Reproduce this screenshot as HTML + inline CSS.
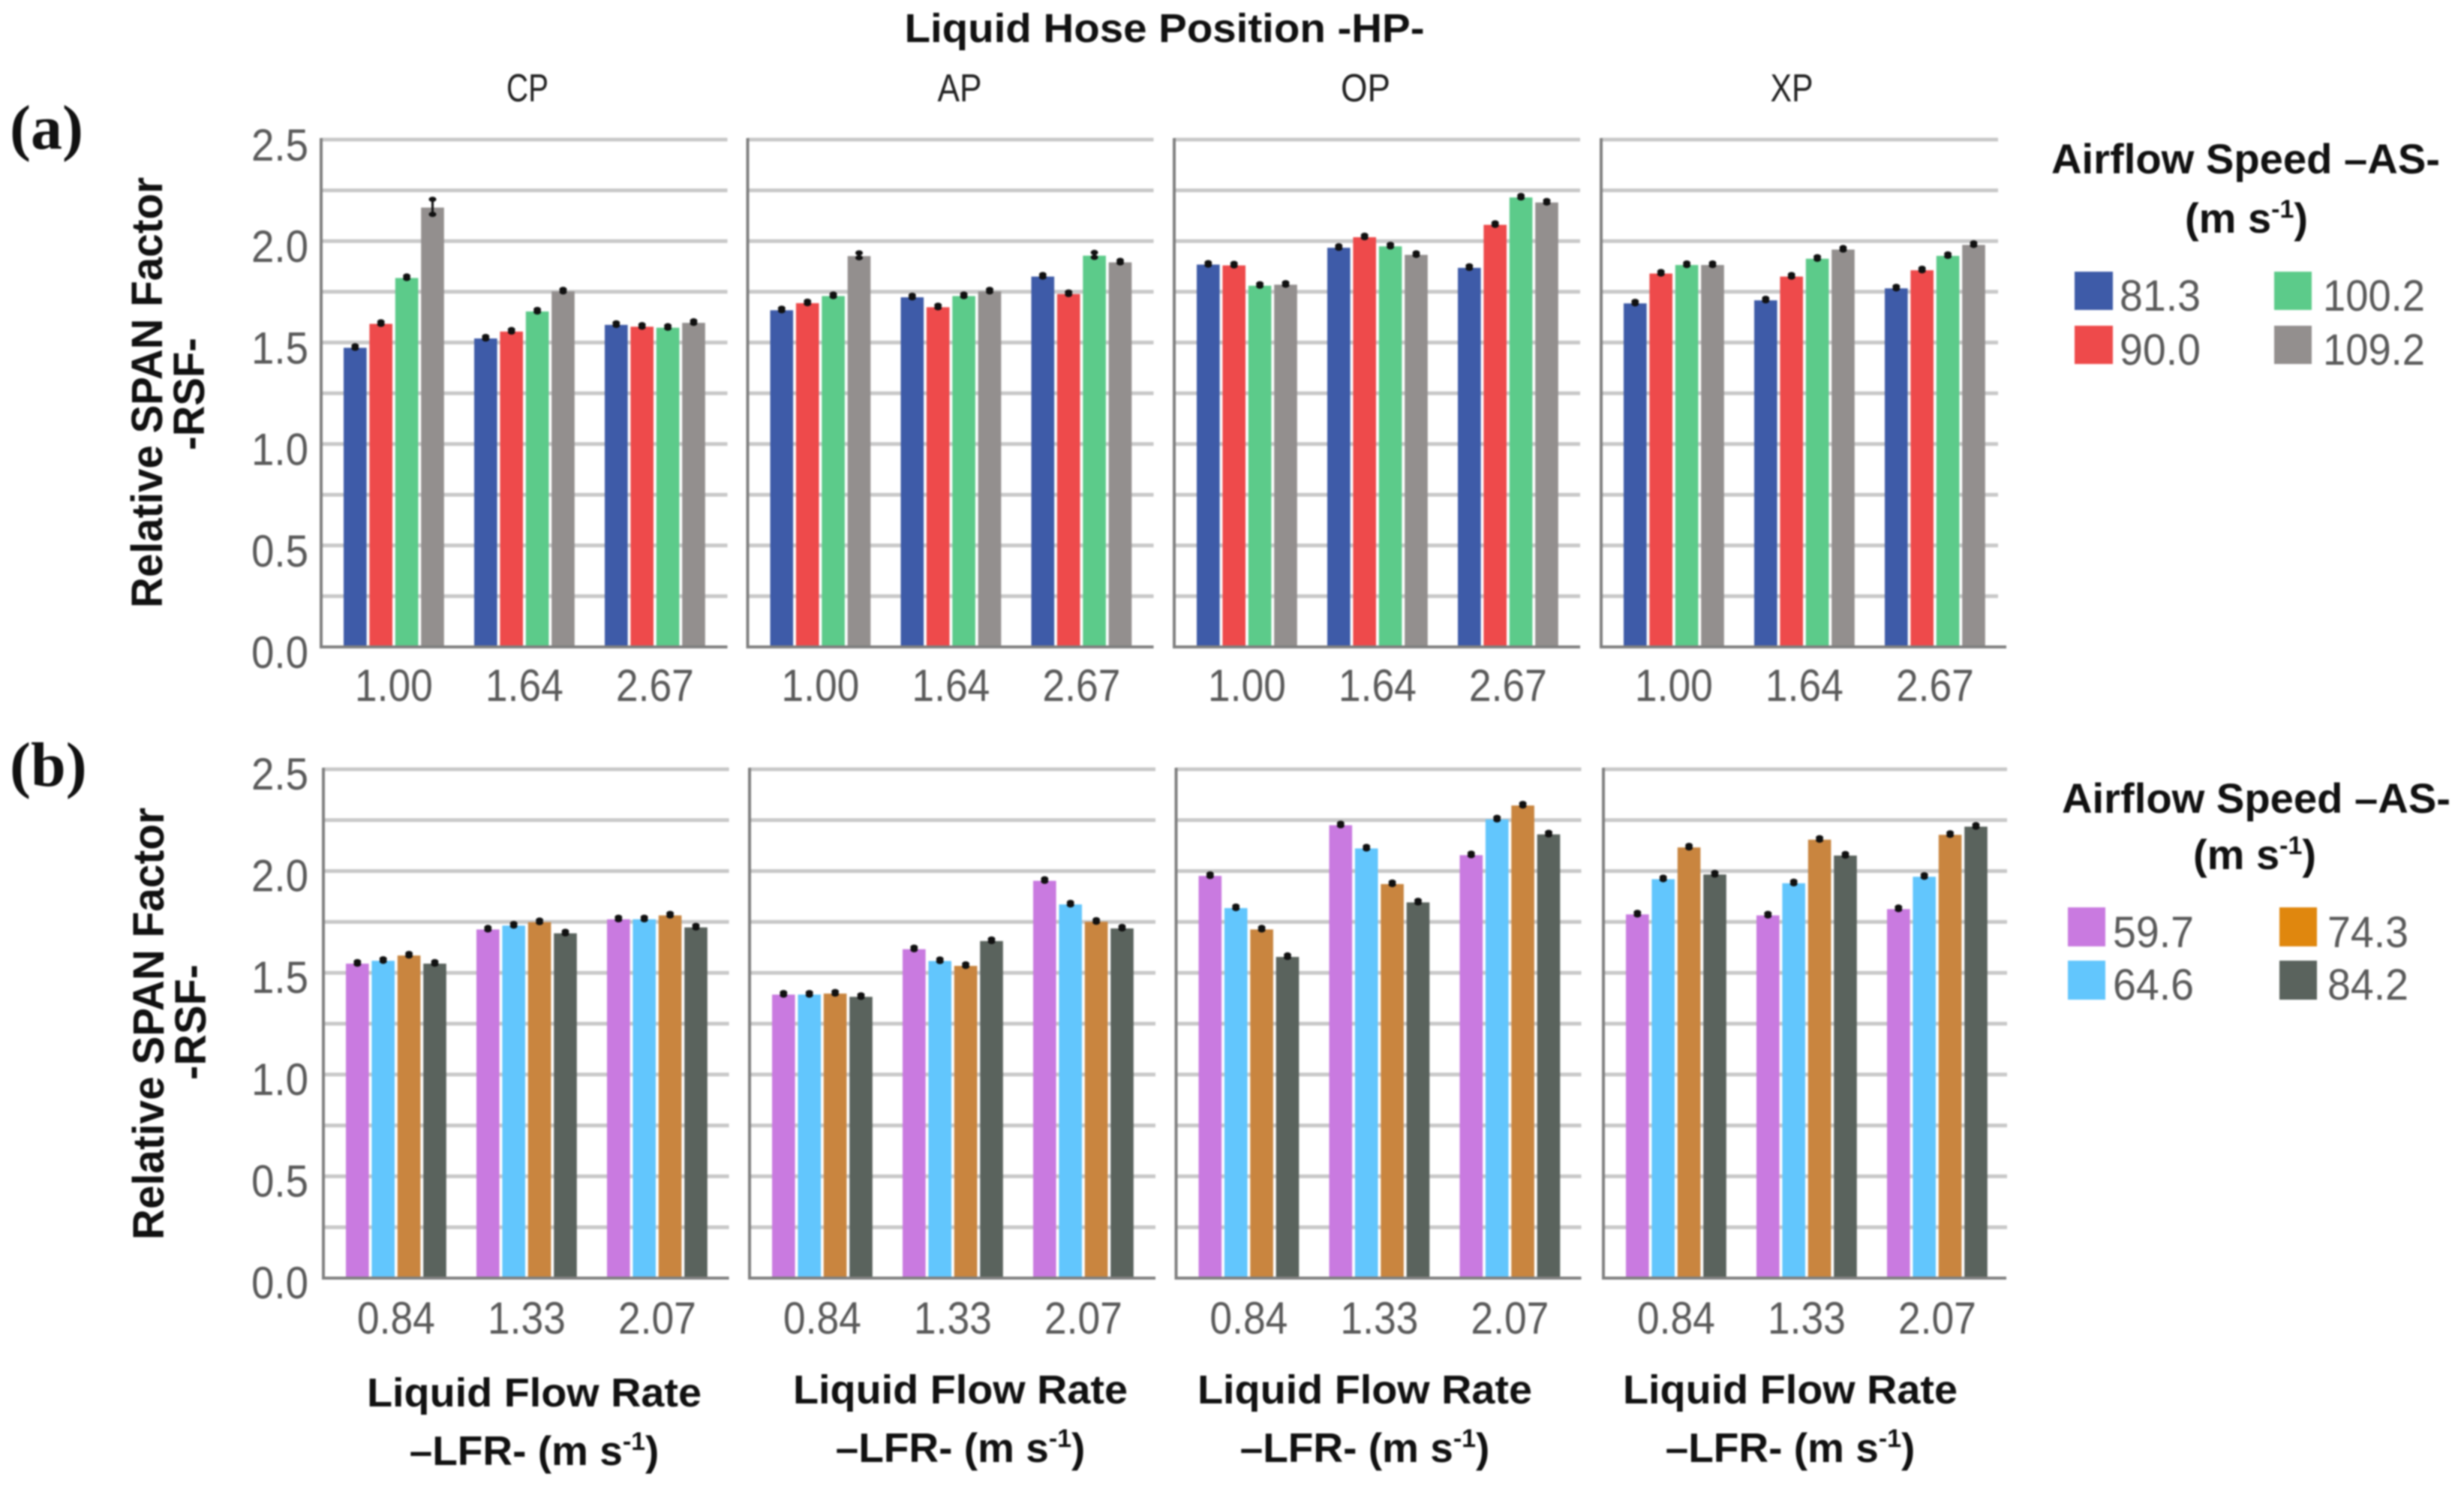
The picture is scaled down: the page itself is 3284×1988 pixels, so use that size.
<!DOCTYPE html>
<html lang="en">
<head>
<meta charset="utf-8">
<title>Relative SPAN Factor by Liquid Hose Position</title>
<style>
html,body{margin:0;padding:0;background:#fff;width:3284px;height:1988px;overflow:hidden}
svg{display:block;filter:blur(1px)}
.b{font-family:"Liberation Sans",sans-serif;font-weight:700;fill:#111}
.r{font-family:"Liberation Sans",sans-serif;fill:#222}
.t{font-family:"Liberation Sans",sans-serif;fill:#5a5a5a}
.s{font-family:"Liberation Serif",serif;font-weight:700;fill:#111}
</style>
</head>
<body>
<svg id="chart" xmlns="http://www.w3.org/2000/svg" width="3284" height="1988" viewBox="0 0 3284 1988">
<rect width="3284" height="1988" fill="#fff"/>
<g id="panels"></g>

<text class="b" x="1552" y="56" font-size="54" text-anchor="middle" textLength="693" lengthAdjust="spacingAndGlyphs">Liquid Hose Position -HP-</text>
<text class="r" x="703" y="135" font-size="52" text-anchor="middle" textLength="56" lengthAdjust="spacingAndGlyphs">CP</text>
<text class="r" x="1279" y="135" font-size="52" text-anchor="middle" textLength="59" lengthAdjust="spacingAndGlyphs">AP</text>
<text class="r" x="1820" y="135" font-size="52" text-anchor="middle" textLength="66" lengthAdjust="spacingAndGlyphs">OP</text>
<text class="r" x="2388" y="135" font-size="52" text-anchor="middle" textLength="57" lengthAdjust="spacingAndGlyphs">XP</text>

<text class="s" x="13" y="198" font-size="84">(a)</text>
<text class="s" x="13" y="1047" font-size="84">(b)</text>

<text class="b" transform="translate(216 523) rotate(-90)" font-size="58" text-anchor="middle" textLength="574" lengthAdjust="spacingAndGlyphs">Relative SPAN Factor</text>
<text class="b" transform="translate(272 525) rotate(-90)" font-size="58" text-anchor="middle" textLength="150" lengthAdjust="spacingAndGlyphs">-RSF-</text>
<text class="b" transform="translate(218 1364) rotate(-90)" font-size="58" text-anchor="middle" textLength="576" lengthAdjust="spacingAndGlyphs">Relative SPAN Factor</text>
<text class="b" transform="translate(274 1362) rotate(-90)" font-size="58" text-anchor="middle" textLength="154" lengthAdjust="spacingAndGlyphs">-RSF-</text>

<g>
<text class="b" x="2993" y="231" font-size="56" text-anchor="middle" textLength="518" lengthAdjust="spacingAndGlyphs">Airflow Speed –AS-</text>
<text class="b" x="2994" y="310" font-size="56" text-anchor="middle">(m s<tspan font-size="34" dy="-20">-1</tspan><tspan dy="20">)</tspan></text>
<rect x="2765" y="362" width="51" height="51" fill="#3e5ba8"/>
<text class="t" x="2825" y="414" font-size="58" textLength="108" lengthAdjust="spacingAndGlyphs">81.3</text>
<rect x="2765" y="434" width="51" height="51" fill="#ee4a4b"/>
<text class="t" x="2825" y="486" font-size="58" textLength="108" lengthAdjust="spacingAndGlyphs">90.0</text>
<rect x="3031" y="362" width="50" height="51" fill="#5ccb8a"/>
<text class="t" x="3096" y="414" font-size="58" textLength="136" lengthAdjust="spacingAndGlyphs">100.2</text>
<rect x="3031" y="434" width="50" height="51" fill="#938f8e"/>
<text class="t" x="3096" y="486" font-size="58" textLength="136" lengthAdjust="spacingAndGlyphs">109.2</text>
</g>

<g>
<text class="b" x="3007" y="1083" font-size="56" text-anchor="middle" textLength="518" lengthAdjust="spacingAndGlyphs">Airflow Speed –AS-</text>
<text class="b" x="3005" y="1158" font-size="56" text-anchor="middle">(m s<tspan font-size="34" dy="-20">-1</tspan><tspan dy="20">)</tspan></text>
<rect x="2756" y="1209" width="50" height="52" fill="#c97ae0"/>
<text class="t" x="2816" y="1262" font-size="58" textLength="108" lengthAdjust="spacingAndGlyphs">59.7</text>
<rect x="2756" y="1280" width="50" height="52" fill="#62c6fd"/>
<text class="t" x="2816" y="1332" font-size="58" textLength="108" lengthAdjust="spacingAndGlyphs">64.6</text>
<rect x="3038" y="1209" width="50" height="52" fill="#e0870e"/>
<text class="t" x="3102" y="1262" font-size="58" textLength="108" lengthAdjust="spacingAndGlyphs">74.3</text>
<rect x="3038" y="1280" width="50" height="52" fill="#5a635d"/>
<text class="t" x="3102" y="1332" font-size="58" textLength="108" lengthAdjust="spacingAndGlyphs">84.2</text>
</g>

<g>
<text class="b" x="712" y="1874" font-size="54" text-anchor="middle" textLength="446" lengthAdjust="spacingAndGlyphs">Liquid Flow Rate</text>
<text class="b" x="712" y="1952" font-size="55" text-anchor="middle">–LFR- (m s<tspan font-size="34" dy="-20">-1</tspan><tspan dy="20">)</tspan></text>
<text class="b" x="1280" y="1870" font-size="54" text-anchor="middle" textLength="446" lengthAdjust="spacingAndGlyphs">Liquid Flow Rate</text>
<text class="b" x="1280" y="1948" font-size="55" text-anchor="middle">–LFR- (m s<tspan font-size="34" dy="-20">-1</tspan><tspan dy="20">)</tspan></text>
<text class="b" x="1819" y="1870" font-size="54" text-anchor="middle" textLength="446" lengthAdjust="spacingAndGlyphs">Liquid Flow Rate</text>
<text class="b" x="1819" y="1948" font-size="55" text-anchor="middle">–LFR- (m s<tspan font-size="34" dy="-20">-1</tspan><tspan dy="20">)</tspan></text>
<text class="b" x="2386" y="1870" font-size="54" text-anchor="middle" textLength="446" lengthAdjust="spacingAndGlyphs">Liquid Flow Rate</text>
<text class="b" x="2386" y="1948" font-size="55" text-anchor="middle">–LFR- (m s<tspan font-size="34" dy="-20">-1</tspan><tspan dy="20">)</tspan></text>
</g>
</svg>

<script>
// ---- categories and tick labels ----
const hosePositions = ['CP', 'AP', 'OP', 'XP'];
const categoriesA = ['1.00', '1.64', '2.67'];
const categoriesB = ['0.84', '1.33', '2.07'];
const seriesA = ['81.3', '90.0', '100.2', '109.2'];
const seriesB = ['59.7', '64.6', '74.3', '84.2'];
const yTickLabels = [0, 0.5, 1, 1.5, 2, 2.5];
const gridValues = [0.25, 0.5, 0.75, 1, 1.25, 1.5, 1.75, 2, 2.25, 2.5];

// ---- values: [flow rate][airflow speed] ----
const valuesA_CP = [[1.474, 1.592, 1.818, 2.165], [1.52, 1.554, 1.653, 1.752], [1.587, 1.578, 1.573, 1.597]];
const valuesA_AP = [[1.659, 1.694, 1.729, 1.926], [1.723, 1.674, 1.729, 1.752], [1.825, 1.739, 1.928, 1.895]];
const valuesA_OP = [[1.884, 1.88, 1.78, 1.785], [1.967, 2.019, 1.974, 1.932], [1.868, 2.08, 2.215, 2.19]];
const valuesA_XP = [[1.693, 1.84, 1.882, 1.882], [1.708, 1.825, 1.913, 1.958], [1.767, 1.856, 1.927, 1.981]];
const valuesB_CP = [[1.545, 1.559, 1.585, 1.545], [1.713, 1.732, 1.749, 1.694], [1.763, 1.763, 1.782, 1.723]];
const valuesB_AP = [[1.393, 1.393, 1.398, 1.382], [1.616, 1.558, 1.534, 1.656], [1.952, 1.836, 1.751, 1.718]];
const valuesB_OP = [[1.976, 1.818, 1.713, 1.578], [2.225, 2.111, 1.936, 1.846], [2.078, 2.254, 2.322, 2.18]];
const valuesB_XP = [[1.787, 1.96, 2.116, 1.983], [1.782, 1.94, 2.154, 2.076], [1.813, 1.972, 2.178, 2.218]];

// ---- error half-widths ----
const typicalError = 0.006;
const errorA_CP_first_grey = 0.037;
const errorA_AP_tall = 0.012;

// ---- layout (not data) ----
const colorsA = ['#3e5ba8', '#ee4a4b', '#5ccb8a', '#938f8e'];
const colorsB = ['#c97ae0', '#62c6fd', '#c9853f', '#5a635d'];
const rowA = {
  key: 'a', top: 186, base: 862, tickDy: 28, catY: 934,
  axisX: [428, 996.5, 1565, 2134], endX: [969.5, 1537.5, 2106, 2663],
  categories: categoriesA, series: seriesA, colors: colorsA,
  values: [valuesA_CP, valuesA_AP, valuesA_OP, valuesA_XP]
};
const rowB = {
  key: 'b', top: 1025, base: 1703, tickDy: 27, catY: 1777,
  axisX: [431, 999, 1567.5, 2137], endX: [971.6, 1540, 2107.5, 2675],
  categories: categoriesB, series: seriesB, colors: colorsB,
  values: [valuesB_CP, valuesB_AP, valuesB_OP, valuesB_XP]
};
const yMax = 2.5;
const groupOffset = 30, groupStep = 174, barStep = 34.4, barWidth = 30.6;

const NS = 'http://www.w3.org/2000/svg';
const root = document.getElementById('panels');
function make(tag, parent, attrs) {
  const e = document.createElementNS(NS, tag);
  for (const k in attrs) e.setAttribute(k, attrs[k]);
  parent.appendChild(e);
  return e;
}
function yScale(row, v) { return row.base - v / yMax * (row.base - row.top); }
function groupX(row, p, g) { return row.axisX[p] + groupOffset + g * groupStep; }
function barX(row, p, g, s) { return groupX(row, p, g) + s * barStep; }
function errorOf(row, p, g, s) {
  if (row.key === 'a' && p === 0 && g === 0 && s === 3) return errorA_CP_first_grey;
  if (row.key === 'a' && p === 1 && ((g === 0 && s === 3) || (g === 2 && s === 2))) return errorA_AP_tall;
  return typicalError;
}

[rowA, rowB].forEach(function (row) {
  row.values.forEach(function (panelValues, p) {
    const tag = row.key + '-' + hosePositions[p].toLowerCase();
    const panel = make('g', root, {});
    
    

    gridValues.forEach(function (v) {
      const gy = yScale(row, v);
      const grid = make('line', panel, { x1: row.axisX[p], x2: row.endX[p], y1: gy, y2: gy, stroke: '#c8c8c8', 'stroke-width': 5 });
      
      
    });

    const yAxis = make('line', panel, { x1: row.axisX[p], x2: row.axisX[p], y1: row.top - 2, y2: row.base + 2, stroke: '#808080', 'stroke-width': 4 });
    
    

    panelValues.forEach(function (groupValues, g) {
      groupValues.forEach(function (v, s) {
        const x = barX(row, p, g, s);
        const top = yScale(row, v);
        const bar = make('rect', panel, { x: x, y: top, width: barWidth, height: row.base - top, fill: row.colors[s] });
        
        

        const e = errorOf(row, p, g, s);
        const hi = yScale(row, v + e), lo = yScale(row, v - e), cx = x + barWidth / 2;
        const whisker = make('line', panel, { x1: cx, x2: cx, y1: hi, y2: lo, stroke: '#111', 'stroke-width': 3 });
        
        
        const capTop = make('ellipse', panel, { cx: cx, cy: hi - 1, rx: 5, ry: 3.5, fill: '#111' });
        
        
        const capLow = make('ellipse', panel, { cx: cx, cy: lo - 1, rx: 5, ry: 3.5, fill: '#111' });
        
        
      });

      const label = make('text', panel, {
        class: 't', x: groupX(row, p, g) + (3 * barStep + barWidth) / 2, y: row.catY,
        'font-size': 60, 'text-anchor': 'middle', textLength: 104, lengthAdjust: 'spacingAndGlyphs'
      });
      label.textContent = row.categories[g];
      
      
    });

    const baseLine = make('line', panel, {
      x1: row.axisX[p] - 2, x2: (p === 3 ? 2674 : row.endX[p]), y1: row.base, y2: row.base, stroke: '#808080', 'stroke-width': 4
    });
    
    

    if (p === 0) {
      yTickLabels.forEach(function (v) {
        const tick = make('text', panel, {
          class: 't', x: 411, y: yScale(row, v) + row.tickDy, 'font-size': 60,
          'text-anchor': 'end', textLength: 76, lengthAdjust: 'spacingAndGlyphs'
        });
        tick.textContent = v.toFixed(1);
        
        
      });
    }
  });
});
</script>
</body>
</html>
